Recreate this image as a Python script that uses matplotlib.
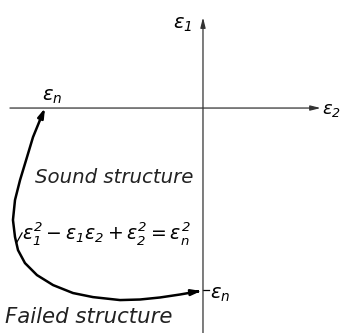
import matplotlib
matplotlib.use("Agg")
import matplotlib.pyplot as plt

plt.rcParams['mathtext.fontset'] = 'custom'
plt.rcParams['mathtext.it'] = 'DejaVu Sans:italic'
plt.rcParams['mathtext.rm'] = 'DejaVu Sans:italic'
plt.rcParams['font.family'] = 'DejaVu Sans'

# limit curve eps1^2 - eps1*eps2 + eps2^2 = eps_n^2 (third quadrant), in units of eps_n
eps2 = [-1.000, -1.032, -1.076, -1.114, -1.158, -1.190, -1.203, -1.190, -1.171,
        -1.127, -1.051, -0.949, -0.823, -0.696, -0.589, -0.525, -0.399, -0.272,
        -0.146, -0.038, -0.012]
eps1 = [0.000, -0.065, -0.157, -0.265, -0.389, -0.497, -0.605, -0.697, -0.768,
        -0.838, -0.903, -0.957, -1.000, -1.022, -1.032, -1.038, -1.035, -1.024,
        -1.008, -0.992, -0.989]

fig = plt.figure(figsize=(3.42, 3.33), dpi=100)
ax = fig.add_axes([0, 0, 1, 1])
ax.set_xlim(-1.285, 0.880)
ax.set_ylim(-1.216, 0.584)
ax.axis('off')

axis_kw = dict(arrowstyle='-|>,head_length=0.6,head_width=0.15', color='#333333', lw=0.9,
               shrinkA=0, shrinkB=0)
ax.annotate('', xy=(0.745, 0), xytext=(-1.222, 0), arrowprops=axis_kw)
ax.annotate('', xy=(0, 0.49), xytext=(0, -1.216), arrowprops=axis_kw)

# curve with arrowheads at both ends
ax.plot(eps2[1:-1], eps1[1:-1], color='black', lw=1.8,
        solid_capstyle='round', solid_joinstyle='round')
tip_kw = dict(arrowstyle='-|>,head_length=0.55,head_width=0.17', color='black', lw=1.8,
              shrinkA=0, shrinkB=0)
ax.annotate('', xy=(eps2[0], eps1[0]), xytext=(eps2[1], eps1[1]), arrowprops=tip_kw)
ax.annotate('', xy=(eps2[-1], eps1[-1]), xytext=(eps2[-2], eps1[-2]), arrowprops=tip_kw)

# small leader lines
ax.plot([-1.178, -1.145], [-0.725, -0.675], color='black', lw=0.9)
ax.plot([0.0, 0.035], [-0.985, -0.985], color='black', lw=0.9)

fs = 14
ax.text(-0.127, 0.449, r'$\varepsilon_1$', fontsize=fs, ha='center', va='center')
ax.text(0.872, -0.01, r'$\varepsilon_2$', fontsize=13, ha='right', va='center')
ax.text(-0.956, 0.065, r'$\varepsilon_n$', fontsize=fs, ha='center', va='center')
ax.text(0.045, -1.01, r'$\varepsilon_n$', fontsize=fs, ha='left', va='center')
ax.text(-0.563, -0.373, 'Sound structure', fontsize=14.2, style='italic',
        ha='center', va='center', color='#222222')
ax.text(-1.146, -0.676,
        r'$\varepsilon_1^2 - \varepsilon_1\varepsilon_2 + \varepsilon_2^2 = \varepsilon_n^2$',
        fontsize=13.6, ha='left', va='center')
ax.text(-0.722, -1.13, 'Failed structure', fontsize=15.3, style='italic',
        ha='center', va='center', color='#222222')

fig.savefig('out.png', dpi=100)
